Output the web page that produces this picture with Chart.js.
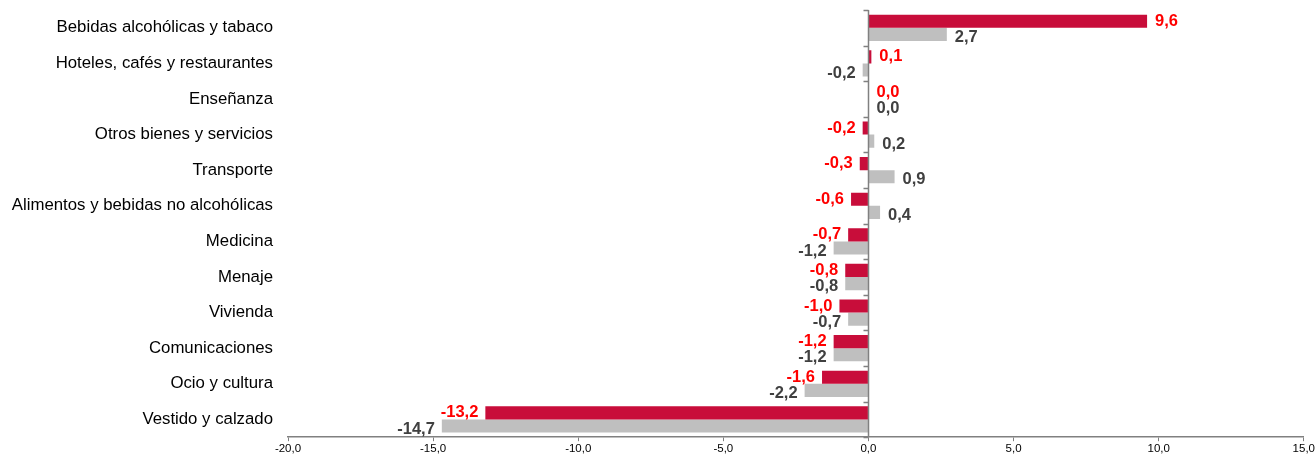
<!DOCTYPE html>
<html>
<head>
<meta charset="utf-8">
<script src="https://cdn.jsdelivr.net/npm/chart.js@4"></script>
<style>
  html, body { margin: 0; padding: 0; background: #fff; }
  #wrap { width: 1316px; height: 457px; }
</style>
</head>
<body>
<div id="wrap"><canvas id="chart"></canvas></div>
<script>
const categories = [
  "Bebidas alcohólicas y tabaco",
  "Hoteles, cafés y restaurantes",
  "Enseñanza",
  "Otros bienes y servicios",
  "Transporte",
  "Alimentos y bebidas no alcohólicas",
  "Medicina",
  "Menaje",
  "Vivienda",
  "Comunicaciones",
  "Ocio y cultura",
  "Vestido y calzado"
];
const redValues = [9.6, 0.1, 0.0, -0.2, -0.3, -0.6, -0.7, -0.8, -1.0, -1.2, -1.6, -13.2];
const greyValues = [2.7, -0.2, 0.0, 0.2, 0.9, 0.4, -1.2, -0.8, -0.7, -1.2, -2.2, -14.7];
const xTicks = [-20, -15, -10, -5, 0, 5, 10, 15];

const fmt = v => v.toFixed(1).replace(".", ",");

// zero axis with tick marks between categories
const zeroAxis = {
  id: "zeroAxis",
  afterDatasetsDraw(chart) {
    const { ctx, chartArea, scales } = chart;
    const x0 = Math.round(scales.x.getPixelForValue(0)) + 0.5;
    ctx.save();
    ctx.strokeStyle = "#808080";
    ctx.lineWidth = 1.5;
    ctx.beginPath();
    ctx.moveTo(x0, chartArea.top);
    ctx.lineTo(x0, chartArea.bottom);
    for (let i = 0; i <= categories.length; i++) {
      const y = Math.round(scales.y.getPixelForValue(i - 0.5)) + 0.5;
      ctx.moveTo(x0 - 5, y);
      ctx.lineTo(x0, y);
    }
    ctx.stroke();
    ctx.restore();
  }
};

// value labels at the bar ends
const valueLabels = {
  id: "valueLabels",
  afterDatasetsDraw(chart) {
    const { ctx } = chart;
    ctx.save();
    ctx.font = "bold 16.5px 'Liberation Sans', Arial, sans-serif";
    ctx.textBaseline = "middle";
    chart.data.datasets.forEach((ds, di) => {
      const meta = chart.getDatasetMeta(di);
      meta.data.forEach((bar, i) => {
        const v = ds.data[i];
        ctx.fillStyle = ds.labelColor;
        const y = bar.y + (di === 0 ? 0 : 3);
        if (v >= 0) {
          ctx.textAlign = "left";
          ctx.fillText(fmt(v), bar.x + 8, y);
        } else {
          ctx.textAlign = "right";
          ctx.fillText(fmt(v), bar.x - 7, y);
        }
      });
    });
    ctx.restore();
  }
};

new Chart(document.getElementById("chart"), {
  type: "bar",
  data: {
    labels: categories,
    datasets: [
      {
        label: "Serie 1",
        data: redValues,
        backgroundColor: "#C80D3A",
        labelColor: "#FF0000",
        barPercentage: 1,
        categoryPercentage: 0.74
      },
      {
        label: "Serie 2",
        data: greyValues,
        backgroundColor: "#BFBFBF",
        labelColor: "#404040",
        barPercentage: 1,
        categoryPercentage: 0.74
      }
    ]
  },
  options: {
    indexAxis: "y",
    responsive: true,
    maintainAspectRatio: false,
    animation: false,
    layout: { padding: { top: 10, right: 0, bottom: 0, left: 0 } },
    plugins: {
      legend: { display: false },
      tooltip: { enabled: false }
    },
    scales: {
      x: {
        min: -20,
        max: 15,
        afterBuildTicks: scale => {
          scale.ticks = xTicks.map(v => ({ value: v }));
        },
        ticks: {
          callback: v => fmt(v),
          color: "#000",
          font: { size: 11.5, family: "'Liberation Sans', Arial, sans-serif" },
          padding: 1,
          maxRotation: 0
        },
        grid: {
          drawOnChartArea: false,
          drawTicks: true,
          tickLength: 4,
          color: "#808080"
        },
        border: { display: true, color: "#808080", width: 1.5 }
      },
      y: {
        afterFit: scale => {
          scale.width = 288;
          scale.paddingTop = 0;
          scale.paddingBottom = 0;
        },
        ticks: {
          color: "#000",
          font: { size: 16.8, family: "'Liberation Sans', Arial, sans-serif" },
          padding: 7
        },
        grid: { display: false },
        border: { display: false }
      }
    }
  },
  plugins: [zeroAxis, valueLabels]
});
</script>
</body>
</html>
